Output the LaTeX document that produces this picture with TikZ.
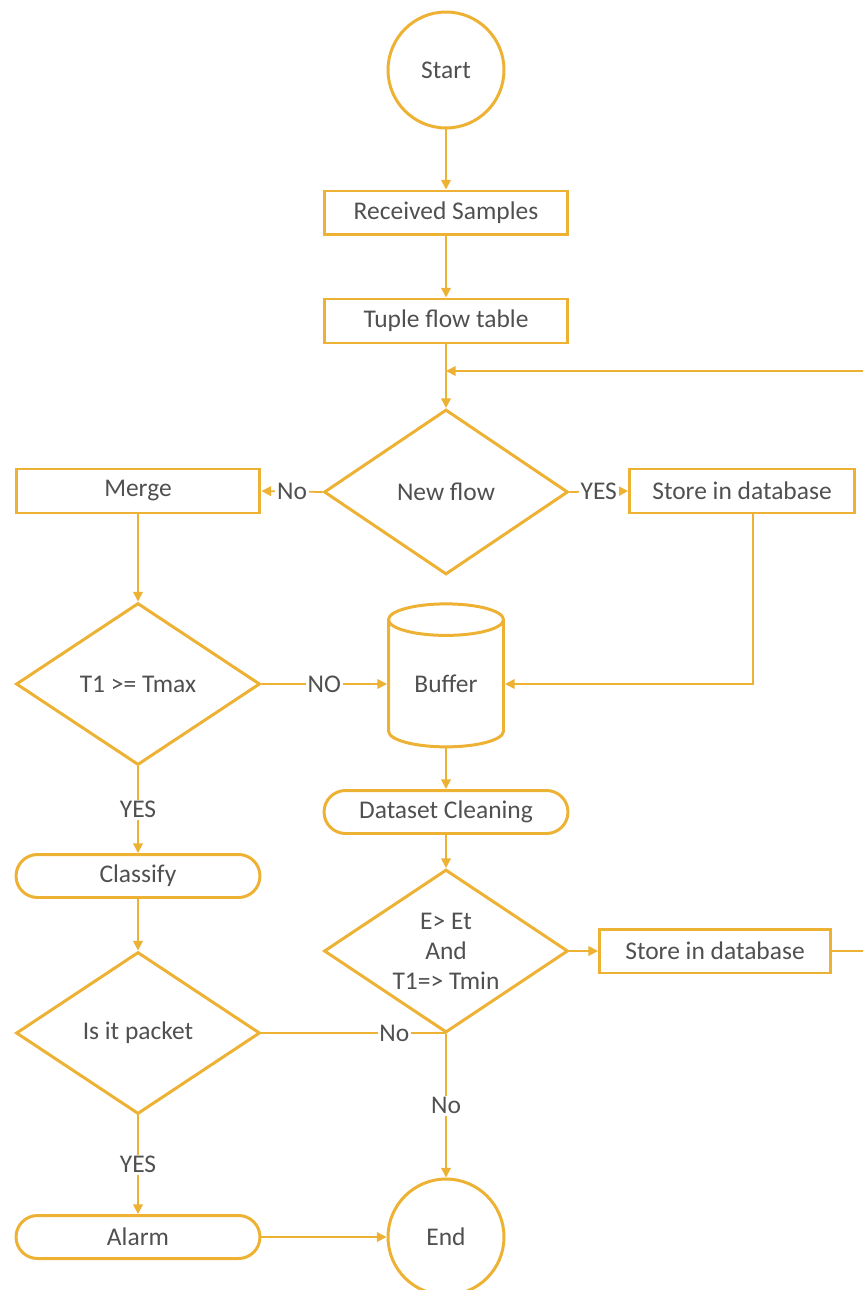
\documentclass[tikz,border=0pt]{standalone}
\usepackage{fontspec}
\setmainfont{Carlito}
\usepackage{xcolor}
\usetikzlibrary{positioning, arrows.meta, shapes.geometric, shapes.misc, calc}
\definecolor{ouro}{HTML}{EDB133}
\definecolor{texto}{HTML}{505050}

\begin{document}
\begin{tikzpicture}[x=0.02cm, y=-0.02cm,
    font=\fontsize{14.5pt}{17pt}\selectfont, text=texto,
    caixa/.style={draw=ouro, line width=1.7pt, rectangle, minimum width=4.88cm, minimum height=0.88cm, inner sep=0pt},
    arred/.style={draw=ouro, line width=1.7pt, rounded rectangle, minimum width=4.88cm, minimum height=0.86cm, inner sep=0pt},
    losango/.style={draw=ouro, line width=1.7pt, diamond, aspect=1.5, minimum width=4.88cm, minimum height=3.3cm, inner sep=0pt, align=center},
    circ/.style={draw=ouro, line width=1.7pt, circle, minimum size=2.32cm, inner sep=0pt},
    seta/.style={draw=ouro, line width=1pt, -{Triangle[width=5.5pt, length=5.5pt]}},
    linha/.style={draw=ouro, line width=1pt},
    rot/.style={fill=white, inner sep=1pt}]
  \useasboundingbox (0,0) rectangle (863,1290);
  \clip (0,0) rectangle (863,1290);

  % Coluna central
  \node[circ] (start) at (446,70) {Start};
  \node[caixa] (received) at (446,213) {Received Samples};
  \node[caixa] (tuple) at (446,321) {Tuple flow table};
  \coordinate (loopin) at (446,371);
  \node[losango] (newflow) at (446,492) {New flow};
  \node[caixa, minimum width=4.5cm] (store1) at (742,491) {Store in database};
  \node[caixa] (merge) at (138,491) {Merge};

  % Buffer e limpeza
  \node[draw=ouro, line width=1.7pt, cylinder, shape border rotate=90, aspect=0.5,
        minimum width=2.3cm, minimum height=2.86cm, inner sep=0pt] (buffer) at (446,684) {Buffer};
  \node[arred] (cleaning) at (446,812) {Dataset Cleaning};
  \node[losango, minimum height=3.26cm] (energy) at (446,951) {E> Et\\And\\T1=> Tmin};
  \node[caixa, minimum width=4.62cm] (store2) at (715,951) {Store in database};
  \node[circ] (endnode) at (446,1237) {End};

  % Coluna esquerda
  \node[losango, minimum height=3.24cm] (tmax) at (138,684) {T1 >= Tmax};
  \node[arred] (classify) at (138,876) {Classify};
  \node[losango, minimum height=3.24cm] (packet) at (138,1033) {Is it packet};
  \node[arred] (alarm) at (138,1237) {Alarm};

  % Setas
  \draw[seta] (start) -- (received);
  \draw[seta] (received) -- (tuple);
  \draw[seta] (tuple) -- (newflow);
  \draw[seta] (store2.east) -- (880,951) |- (loopin);
  \draw[seta] (newflow.west) -- node[rot] {No} (merge.east);
  \draw[seta] (newflow.east) -- node[rot] {YES} (store1.west);
  \draw[seta] ([xshift=0.22cm]store1.south) |- (buffer.east);
  \draw[seta] (merge) -- (tmax);
  \draw[seta] (tmax.east) -- node[rot] {NO} (buffer.west);
  \draw[seta] (tmax.south) -- node[rot] {YES} (classify.north);
  \draw[seta] (buffer.south) -- (cleaning.north);
  \draw[seta] (cleaning.south) -- (energy.north);
  \draw[seta] (classify.south) -- (packet.north);
  \draw[seta] (energy.east) -- (store2.west);
  \draw[linha] (packet.east) -- node[rot, pos=0.72] {No} (packet.east -| energy.south);
  \draw[seta] (energy.south) -- node[rot] {No} (endnode.north);
  \draw[seta] (packet.south) -- node[rot] {YES} (alarm.north);
  \draw[seta] (alarm.east) -- (endnode.west);
\end{tikzpicture}
\end{document}
